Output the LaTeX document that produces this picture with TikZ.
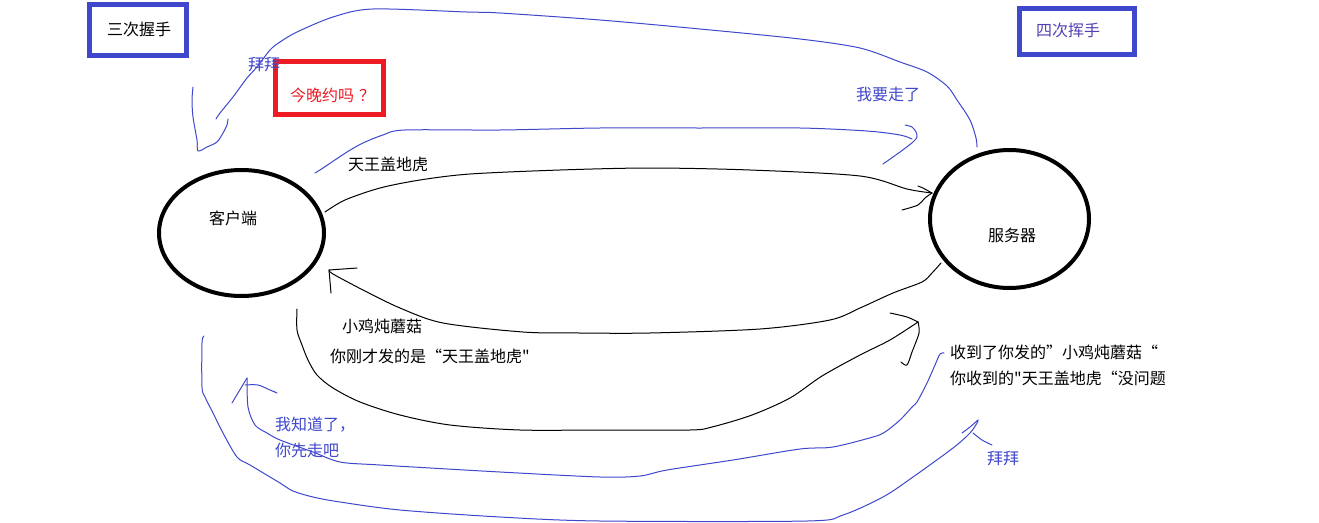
\documentclass[tikz,border=0pt]{standalone}
\usepackage{fontspec}
\setmainfont{Noto Sans CJK SC}[Ligatures=TeXOff]
\usetikzlibrary{shapes.geometric}
\definecolor{pblue}{HTML}{3F48CC}
\definecolor{pred}{HTML}{ED1C24}
\definecolor{ppurple}{HTML}{5640B4}
\newcommand\fwopen{\makebox[1em][r]{“}}
\newcommand\fwclose{\makebox[1em][l]{”}}
\begin{document}
\begin{tikzpicture}[x=1pt,y=-1pt,
  txt/.style={font=\fontsize{16}{19}\selectfont, inner sep=0pt, text=black},
  bluetxt/.style={txt, text=pblue},
  ell/.style={draw, line width=4pt, ellipse, inner sep=0pt},
  frame/.style={draw, line width=4.8pt, rectangle, inner sep=0pt},
  bline/.style={draw=pblue, line width=1pt, line join=round, line cap=round},
  kline/.style={draw=black, line width=1pt, line join=round, line cap=round},
  sm/.style={smooth, tension=0.5}]
\useasboundingbox[fill=white] (0,0) rectangle (1319,522);

% boxes
\node[frame, draw=pblue, minimum width=97pt, minimum height=51pt] (box3) at (138,30) {};
\node[txt] (t3) at (139,29) {三次握手};
\node[frame, draw=pblue, minimum width=115pt, minimum height=46pt] (box4) at (1077,31.5) {};
\node[txt, text=ppurple] (t4) at (1068,30) {四次挥手};
\node[frame, draw=pred, minimum width=108pt, minimum height=53pt] (boxr) at (329.5,88) {};
\node[txt, text=pred, anchor=west] (tr) at (290,95) {今晚约吗\hspace{5pt}？};

% ellipses
\node[ell, minimum width=165pt, minimum height=126pt] (cli) at (241.5,233) {};
\node[txt] (clit) at (233,218) {客户端};
\node[ell, minimum width=159pt, minimum height=138pt] (srv) at (1009.5,219) {};
\node[txt] (srvt) at (1012,235) {服务器};

% labels
\node[bluetxt] (bye1) at (264,65) {拜拜};
\node[txt] (l1) at (388,164) {天王盖地虎};
\node[bluetxt] (l2) at (888,94) {我要走了};
\node[txt] (l3) at (382,326) {小鸡炖蘑菇};
\node[txt, anchor=west] (l4) at (330,356) {你刚才发的是\fwopen 天王盖地虎"};
\node[txt, anchor=west] (l5) at (950,352) {收到了你发的\fwclose 小鸡炖蘑菇\fwopen};
\node[txt, anchor=west] (l6) at (950,378) {你收到的"天王盖地虎\fwopen 没问题};
\node[bluetxt, anchor=west] (l7) at (275,425) {我知道了，};
\node[bluetxt, anchor=west] (l8) at (275,450) {你先走吧};
\node[bluetxt] (bye2) at (1003,459) {拜拜};

% end points
\coordinate (a0) at (325,212);  \coordinate (a1) at (932,193);
\coordinate (b0) at (941,263);  \coordinate (b1) at (329,270);
\coordinate (c0) at (297,309);  \coordinate (c1) at (918,322);
\coordinate (d0) at (315,173);  \coordinate (d1) at (912,139);
\coordinate (e0) at (977,147);  \coordinate (e1) at (216,119);
\coordinate (f0) at (944,353);  \coordinate (f1) at (247,378);
\coordinate (g0) at (204,336);  \coordinate (g1) at (978,420);

% black: 天王盖地虎
\draw[kline] plot[sm] coordinates {(a0) (345,200) (380,188) (420,180) (470,174) (560,170) (650,168) (750,170) (860,176) (907,189) (a1)};
\draw[kline] (918,186) -- (923,188) -- (a1);
\draw[kline] plot[sm] coordinates {(a1) (925,198) (918,205) (902,210)};

% black: 小鸡炖蘑菇
\draw[kline] plot[sm] coordinates {(b0) (932,273) (922,282) (893,293) (860,308) (830,320) (760,329) (650,333) (580,333) (523,332) (443,323) (400,308) (363,290) (333,274) (b1)};
\draw[kline] (357,268) -- (b1) -- (331,293);

% black: 你刚才发的是
\draw[kline] plot[sm] coordinates {(c0) (297,330) (302,345) (308,360) (317,375) (333,388) (360,402) (400,415) (450,425) (520,430) (600,430) (690,430) (712,427) (752,415) (790,398) (822,376) (860,355) (890,340) (c1)};
\draw[kline] plot[sm] coordinates {(890,313) (907,317) (c1)};
\draw[kline] plot[sm] coordinates {(c1) (919,333) (912,352) (907,365) (901,362)};

% blue: 我要走了
\draw[bline] plot[sm] coordinates {(d0) (323,168) (347,152) (363,143) (383,135) (405,130) (500,130) (600,128) (700,128) (800,128) (867,131) (900,135) (d1)};
\draw[bline] plot[sm] coordinates {(905,125) (912,127) (916,132) (917,137) (913,142) (900,152) (883,164)};

% blue: 拜拜 (top)
\draw[bline] plot[sm] coordinates {(e0) (976,138) (970,120) (957,100) (947,86) (927,72) (900,62) (860,48) (800,39) (700,29) (600,20) (500,13) (467,12) (373,9) (333,17) (297,32) (280,42) (270,50) (257,67) (247,78) (233,97) (220,113) (e1)};
\draw[bline] plot[sm] coordinates {(193,87) (192,100) (193,117) (197,140) (198,151) (207,147) (217,142) (223,133) (227,125) (228,119)};

% blue: 我知道了
\draw[bline] plot[sm] coordinates {(f0) (940,354) (935,365) (927,383) (917,402) (913,406) (900,420) (885,432) (873,437) (833,447) (800,449) (733,460) (667,470) (640,476) (600,477) (500,472) (380,465) (340,462) (313,452) (280,440) (267,433) (255,425) (248,407) (f1)};
\draw[bline] (f1) -- (232,403);
\draw[bline] plot[sm] coordinates {(245,385) (258,385) (270,390) (277,393) (273,391)};

% blue: 拜拜 (bottom)
\draw[bline] plot[sm] coordinates {(g0) (202,343) (202,387) (205,397) (213,413) (223,433) (237,457) (250,465) (280,483) (293,491) (313,497) (340,502) (400,510) (500,517) (600,521) (807,521) (843,515) (883,497) (913,477) (953,448) (970,433) (977,423) (g1)};
\draw[bline] plot[sm] coordinates {(g1) (970,427) (962,433)};
\draw[bline] plot[sm] coordinates {(973,433) (982,440) (992,445)};
\end{tikzpicture}
\end{document}
